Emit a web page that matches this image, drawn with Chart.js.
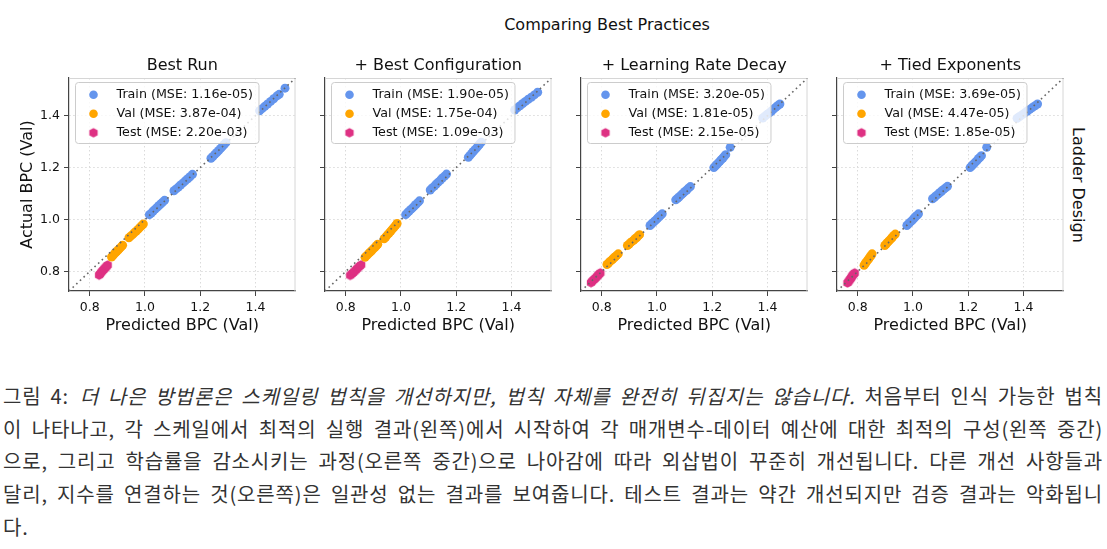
<!DOCTYPE html>
<html>
<head>
<meta charset="utf-8">
<script src="https://cdn.jsdelivr.net/npm/chart.js@4.4.1/dist/chart.umd.min.js"></script>
<style>
  body { margin: 0; width: 1107px; height: 549px; background: #fff; position: relative; overflow: hidden;
         font-family: 'DejaVu Sans', sans-serif; color: #111; }
  .panel { position: absolute; top: 48px; height: 290px; }
  .suptitle { position: absolute; left: 607px; top: 15px; transform: translateX(-50%); font-size: 16px;
              line-height: 20px; white-space: nowrap; }
  .rowlabel { position: absolute; left: 1068px; top: 120px; height: 130px; width: 20px; writing-mode: vertical-rl;
              font-size: 16px; line-height: 20px; text-align: center; white-space: nowrap; }
  .caption { position: absolute; left: 3px; top: 380px; width: 1100px; font-family: 'Noto Sans CJK KR', sans-serif;
             font-size: 20px; line-height: 32.7px; color: #333; }
  .caption div { text-align: justify; text-align-last: justify; white-space: nowrap; }
  .caption div.last { text-align-last: left; }
</style>
</head>
<body>
<div class="suptitle">Comparing Best Practices</div>
<div class="rowlabel">Ladder Design</div>
<canvas class="panel" id="p0" style="left:0px" width="300" height="290"></canvas>
<canvas class="panel" id="p1" style="left:319px" width="237" height="290"></canvas>
<canvas class="panel" id="p2" style="left:575px" width="237" height="290"></canvas>
<canvas class="panel" id="p3" style="left:831px" width="237" height="290"></canvas>

<div class="caption">
  <div>그림 4:&ensp;<em>더 나은 방법론은 스케일링 법칙을 개선하지만, 법칙 자체를 완전히 뒤집지는 않습니다.</em> 처음부터 인식 가능한 법칙</div>
  <div>이 나타나고, 각 스케일에서 최적의 실행 결과(왼쪽)에서 시작하여 각 매개변수-데이터 예산에 대한 최적의 구성(왼쪽 중간)</div>
  <div>으로, 그리고 학습률을 감소시키는 과정(오른쪽 중간)으로 나아감에 따라 외삽법이 꾸준히 개선됩니다. 다른 개선 사항들과</div>
  <div>달리, 지수를 연결하는 것(오른쪽)은 일관성 없는 결과를 보여줍니다. 테스트 결과는 약간 개선되지만 검증 결과는 악화됩니</div>
  <div class="last">다.</div>
</div>

<script>
// axis limits and ticks (shared by all panels)
var axisLimits = [0.725, 1.545];
var tickValues = [0.8, 1.0, 1.2, 1.4];
var panelTitles = ['Best Run', '+ Best Configuration', '+ Learning Rate Decay', '+ Tied Exponents'];
var seriesNames = ['Train', 'Val', 'Test'];

// Best Run
var runTrain = [[1.016,1.019],[1.023,1.025],[1.030,1.033],[1.037,1.040],[1.044,1.047],[1.051,1.054],[1.058,1.061],[1.064,1.067],[1.071,1.074],
  [1.105,1.111],[1.113,1.118],[1.121,1.125],[1.129,1.133],[1.138,1.141],[1.146,1.149],[1.155,1.157],[1.163,1.165],[1.172,1.174],
  [1.239,1.236],[1.246,1.243],[1.253,1.251],[1.260,1.258],[1.267,1.266],[1.274,1.274],[1.280,1.281],[1.287,1.289],[1.293,1.296],
  [1.415,1.419],[1.424,1.427],[1.434,1.436],[1.444,1.445],[1.455,1.455],[1.466,1.465],[1.478,1.476],[1.486,1.482],[1.507,1.506]];
var runVal = [[0.879,0.856],[0.884,0.861],[0.889,0.868],[0.894,0.873],[0.899,0.879],[0.904,0.884],[0.909,0.890],[0.914,0.895],[0.919,0.901],
  [0.942,0.930],[0.948,0.936],[0.955,0.942],[0.961,0.949],[0.968,0.955],[0.975,0.962],[0.981,0.969],[0.988,0.976],[0.994,0.983]];
var runTest = [[0.834,0.786],[0.837,0.790],[0.841,0.796],[0.845,0.801],[0.849,0.806],[0.853,0.811],[0.857,0.815],[0.861,0.820],[0.865,0.825]];
var runMse = ['1.16e-05', '3.87e-04', '2.20e-03'];

// + Best Configuration
var cfgTrain = [[1.017,1.019],[1.023,1.026],[1.029,1.032],[1.036,1.039],[1.042,1.045],[1.048,1.052],[1.054,1.058],[1.061,1.065],[1.067,1.072],
  [1.106,1.114],[1.113,1.122],[1.121,1.129],[1.128,1.137],[1.135,1.144],[1.143,1.152],[1.150,1.160],[1.158,1.167],[1.165,1.175],
  [1.244,1.240],[1.250,1.247],[1.256,1.255],[1.262,1.262],[1.268,1.269],[1.274,1.276],[1.280,1.284],[1.285,1.291],[1.291,1.298],
  [1.412,1.422],[1.421,1.430],[1.431,1.438],[1.441,1.447],[1.451,1.455],[1.461,1.463],[1.472,1.471],[1.483,1.480],[1.495,1.490]];
var cfgVal = [[0.870,0.855],[0.876,0.861],[0.882,0.868],[0.888,0.874],[0.894,0.880],[0.900,0.887],[0.906,0.893],[0.911,0.899],[0.916,0.905],
  [0.939,0.926],[0.945,0.933],[0.951,0.941],[0.957,0.948],[0.963,0.955],[0.969,0.963],[0.975,0.970],[0.981,0.978],[0.986,0.985]];
var cfgTest = [[0.816,0.785],[0.821,0.790],[0.826,0.795],[0.831,0.800],[0.836,0.805],[0.841,0.811],[0.846,0.816],[0.851,0.821],[0.856,0.826]];
var cfgMse = ['1.90e-05', '1.75e-04', '1.09e-03'];

// + Learning Rate Decay
var lrdTrain = [[0.975,0.977],[0.980,0.983],[0.986,0.988],[0.991,0.994],[0.997,0.999],[1.002,1.005],[1.008,1.011],[1.013,1.016],[1.019,1.022],
  [1.068,1.076],[1.075,1.082],[1.081,1.088],[1.088,1.095],[1.094,1.101],[1.101,1.108],[1.108,1.114],[1.114,1.121],[1.121,1.127],
  [1.206,1.200],[1.211,1.206],[1.217,1.212],[1.222,1.218],[1.228,1.225],[1.233,1.231],[1.239,1.237],[1.244,1.244],[1.249,1.250],[1.265,1.278],
  [1.383,1.391],[1.391,1.398],[1.399,1.405],[1.407,1.411],[1.415,1.418],[1.422,1.425],[1.430,1.432],[1.438,1.439],[1.445,1.445]];
var lrdVal = [[0.819,0.827],[0.824,0.832],[0.829,0.838],[0.835,0.843],[0.840,0.848],[0.845,0.853],[0.850,0.858],[0.855,0.863],[0.860,0.868],
  [0.893,0.900],[0.899,0.905],[0.904,0.911],[0.910,0.916],[0.916,0.921],[0.921,0.926],[0.927,0.931],[0.932,0.937],[0.937,0.942]];
var lrdTest = [[0.761,0.757],[0.765,0.762],[0.770,0.767],[0.774,0.771],[0.778,0.776],[0.783,0.781],[0.787,0.786],[0.791,0.790],[0.795,0.795]];
var lrdMse = ['3.20e-05', '1.81e-05', '2.15e-05'];

// + Tied Exponents
var tiedTrain = [[0.978,0.977],[0.983,0.983],[0.988,0.988],[0.994,0.994],[0.999,0.999],[1.004,1.005],[1.009,1.011],[1.015,1.016],[1.020,1.022],
  [1.071,1.080],[1.078,1.086],[1.084,1.092],[1.091,1.098],[1.098,1.104],[1.104,1.110],[1.111,1.116],[1.118,1.122],[1.125,1.128],
  [1.207,1.200],[1.212,1.206],[1.217,1.211],[1.222,1.217],[1.228,1.223],[1.233,1.229],[1.238,1.235],[1.243,1.240],[1.248,1.246],[1.267,1.278],
  [1.377,1.390],[1.386,1.397],[1.396,1.404],[1.405,1.411],[1.414,1.418],[1.423,1.424],[1.432,1.431],[1.442,1.438],[1.451,1.445]];
var tiedVal = [[0.823,0.824],[0.827,0.830],[0.830,0.835],[0.834,0.841],[0.838,0.846],[0.841,0.851],[0.845,0.857],[0.849,0.862],[0.852,0.868],
  [0.898,0.900],[0.903,0.906],[0.907,0.911],[0.912,0.917],[0.917,0.922],[0.922,0.928],[0.926,0.933],[0.931,0.939],[0.936,0.944]];
var tiedTest = [[0.763,0.756],[0.766,0.761],[0.770,0.766],[0.773,0.771],[0.776,0.776],[0.779,0.781],[0.782,0.786],[0.786,0.790],[0.789,0.795]];
var tiedMse = ['3.69e-05', '4.47e-05', '1.85e-05'];

var panels = [
  [runTrain, runVal, runTest, runMse],
  [cfgTrain, cfgVal, cfgTest, cfgMse],
  [lrdTrain, lrdVal, lrdTest, lrdMse],
  [tiedTrain, tiedVal, tiedTest, tiedMse]
];
var colors = ['#6495ed', '#ffa500', '#de3183'];

// caption: spread the justification slack over the letters, not only the spaces
(function () {
  var cap = document.querySelector('.caption');
  var lines = cap.querySelectorAll('div');
  var natural = 0, target = 0, chars = 0;
  for (var i = 0; i < 4; i++) {
    var el = lines[i];
    var probe = document.createElement('span');
    probe.innerHTML = el.innerHTML;
    probe.style.whiteSpace = 'nowrap';
    probe.style.position = 'absolute';
    probe.style.visibility = 'hidden';
    cap.appendChild(probe);
    natural += probe.getBoundingClientRect().width;
    cap.removeChild(probe);
    var txt = el.textContent.trim();
    var spaces = (txt.match(/[ \u2002]/g) || []).length;
    target += 1100 - 4 * spaces;
    chars += txt.length;
  }
  var ls = Math.max(-1, (target - natural) / chars);
  cap.style.letterSpacing = ls.toFixed(2) + 'px';
})();

Chart.defaults.font.family = "'DejaVu Sans', sans-serif";
Chart.defaults.color = '#111';

// matplotlib 'h' style marker
function hexMarker(color, r) {
  var c = document.createElement('canvas');
  var s = Math.ceil(r * 2) + 2;
  c.width = s; c.height = s;
  var g = c.getContext('2d');
  g.fillStyle = color;
  g.beginPath();
  for (var k = 0; k < 6; k++) {
    var a = Math.PI / 2 + k * Math.PI / 3;
    var px = s / 2 + r * Math.cos(a), py = s / 2 - r * Math.sin(a);
    if (k === 0) g.moveTo(px, py); else g.lineTo(px, py);
  }
  g.closePath();
  g.fill();
  return c;
}
var hexPink = hexMarker(colors[2], 4.8);

function toXY(arr) {
  return arr.map(function (p) { return {x: p[0], y: p[1]}; });
}

// light top/right spines
var frame = {
  id: 'frame',
  beforeDatasetsDraw: function (chart) {
    var a = chart.chartArea, ctx = chart.ctx;
    ctx.save();
    ctx.strokeStyle = '#d6d6d6';
    ctx.lineWidth = 1;
    ctx.beginPath();
    ctx.moveTo(a.left, a.top + 0.5);
    ctx.lineTo(a.right - 0.5, a.top + 0.5);
    ctx.lineTo(a.right - 0.5, a.bottom);
    ctx.stroke();
    ctx.restore();
  }
};

// legend box inside the axes, drawn over the points
var boxLegend = {
  id: 'boxLegend',
  afterDatasetsDraw: function (chart) {
    var ctx = chart.ctx, a = chart.chartArea;
    var items = chart.data.datasets.filter(function (d) { return d.inLegend; });
    var x0 = a.left + 6.5, y0 = a.top + 4.5;
    ctx.save();
    ctx.font = "12.7px 'DejaVu Sans'";
    var tw = Math.max.apply(null, items.map(function (d) { return ctx.measureText(d.label).width; }));
    var w = 41 + tw + 6, h = 61;
    ctx.beginPath();
    ctx.roundRect(x0, y0, w, h, 3);
    ctx.fillStyle = 'rgba(255,255,255,0.8)';
    ctx.fill();
    ctx.strokeStyle = '#cccccc';
    ctx.lineWidth = 1;
    ctx.stroke();
    items.forEach(function (d, i) {
      var cy = y0 + 12.3 + i * 19, cx = x0 + 18;
      if (d.pointStyle instanceof HTMLCanvasElement) {
        ctx.drawImage(d.pointStyle, cx - d.pointStyle.width / 2, cy - d.pointStyle.height / 2);
      } else {
        ctx.beginPath();
        ctx.arc(cx, cy, 4.3, 0, Math.PI * 2);
        ctx.fillStyle = d.backgroundColor;
        ctx.fill();
      }
      ctx.fillStyle = '#111';
      ctx.textBaseline = 'middle';
      ctx.textAlign = 'left';
      ctx.fillText(d.label, x0 + 41, cy);
    });
    ctx.restore();
  }
};

function axisOpts(isY, first) {
  var o = {
    type: 'linear',
    min: axisLimits[0],
    max: axisLimits[1],
    afterBuildTicks: function (s) { s.ticks = tickValues.map(function (v) { return {value: v}; }); },
    ticks: {
      display: !isY || first,
      font: {size: 12.5},
      color: '#111',
      padding: 4,
      callback: function (v) { return v.toFixed(1); }
    },
    grid: { color: '#dadada', lineWidth: 1, tickLength: 5, tickColor: '#444', tickWidth: 1 },
    border: { color: '#444', width: 1.2, dash: [1.5, 2.5] },
    title: {
      display: !isY || first,
      text: isY ? 'Actual BPC (Val)' : 'Predicted BPC (Val)',
      font: {size: 16, lineHeight: 1.2},
      color: '#111',
      padding: isY ? {top: 18, bottom: 0} : {top: 0, bottom: 0.5}
    }
  };
  if (isY) {
    o.afterFit = function (s) { s.width = first ? 69 : 6; };
  } else {
    o.afterFit = function (s) { s.height = 45; };
  }
  return o;
}

panels.forEach(function (p, i) {
  var datasets = [{
    type: 'line',
    label: 'y = x',
    data: [{x: axisLimits[0], y: axisLimits[0]}, {x: axisLimits[1], y: axisLimits[1]}],
    showLine: true,
    borderColor: '#666',
    borderWidth: 1.6,
    borderDash: [1.6, 3.4],
    pointRadius: 0,
    fill: false,
    order: 0
  }];
  for (var k = 0; k < 3; k++) {
    datasets.push({
      label: seriesNames[k] + ' (MSE: ' + p[3][k] + ')',
      data: toXY(p[k]),
      backgroundColor: colors[k],
      borderWidth: 0,
      pointRadius: 4.5,
      pointStyle: k === 2 ? hexPink : 'circle',
      order: 1,
      inLegend: true
    });
  }
  new Chart(document.getElementById('p' + i), {
    type: 'scatter',
    data: { datasets: datasets },
    options: {
      responsive: false,
      animation: false,
      events: [],
      layout: { padding: { left: 0, right: 3, top: 0, bottom: 2 } },
      plugins: {
        legend: { display: false },
        tooltip: { enabled: false },
        title: {
          display: true,
          text: panelTitles[i],
          fullSize: false,
          color: '#111',
          font: { size: 16, weight: 'normal', lineHeight: 1.25 },
          padding: { top: 8, bottom: 2 }
        }
      },
      scales: { x: axisOpts(false, i === 0), y: axisOpts(true, i === 0) }
    },
    plugins: [frame, boxLegend]
  });
});
</script>
</body>
</html>
